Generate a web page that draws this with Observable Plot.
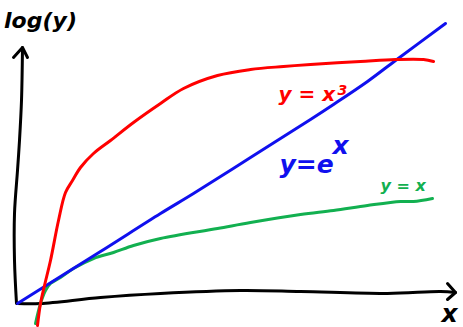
<!DOCTYPE html>
<html>
<head>
<meta charset="utf-8">
<script src="https://cdn.jsdelivr.net/npm/d3@7"></script>
<script src="https://cdn.jsdelivr.net/npm/@observablehq/plot@0.6"></script>
<style>
  html, body { margin: 0; padding: 0; background: #fff; }
  #chart svg { display: block; }
</style>
</head>
<body>
<div id="chart"></div>
<script>
// Sketch of log(y) against x for three growth laws (sketch units, origin at 0,0)
const cubicCurve = [
  [20, -22], [23, 0], [27, 18], [33, 43], [41, 83], [48, 111], [55, 123],
  [63, 136], [76, 150], [93, 163], [116, 181], [143, 200], [166, 215],
  [200, 228], [233, 234], [266, 237], [293, 239], [343, 242], [378, 244],
  [406, 244], [416, 242]
];
const expCurve = [
  [0, 0], [83, 52], [143, 90], [176, 110], [233, 146], [293, 184],
  [316, 199], [350, 222], [378, 243], [428, 280]
];
const linearCurve = [
  [18, -20], [23, 0], [28, 13], [33, 20], [43, 26], [56, 35], [76, 45],
  [96, 51], [116, 58], [143, 65], [200, 75], [233, 81], [283, 89], [316, 93],
  [350, 98], [383, 102], [396, 102], [415, 105]
];

// Hand-drawn axes with arrowheads
const yAxisLine = [[-1, 0], [-3, 43], [-3, 90], [0, 133], [2, 163], [4, 203], [5, 256]];
const yArrow = [[-4, 246], [5, 256], [10, 246]];
const xAxisLine = [[0, 0], [23, 0], [83, 6], [143, 10], [223, 13], [283, 12], [370, 10], [423, 12], [438, 11]];
const xArrow = [[430, 20], [438, 11], [430, 4]];

// Labels: text, position, colour, size
const labels = [
  {text: "log(y)", x: 23, y: 276, color: "#000", size: 22, anchor: "middle"},
  {text: "y = x", x: 261, y: 203, color: "#ff0000", size: 20, anchor: "start"},
  {text: "3", x: 320, y: 209, color: "#ff0000", size: 14, anchor: "start"},
  {text: "y=e", x: 262, y: 131, color: "#1010ee", size: 25, anchor: "start"},
  {text: "x", x: 315, y: 150, color: "#1010ee", size: 25, anchor: "start"},
  {text: "y = x", x: 363, y: 113, color: "#12b050", size: 16, anchor: "start"},
  {text: "x", x: 432, y: -18, color: "#000", size: 25, anchor: "middle"}
];

const font = "'DejaVu Sans', sans-serif";
const lineStyle = {x: d => d[0], y: d => d[1], strokeWidth: 3, strokeLinecap: "round", strokeLinejoin: "round"};

const chart = Plot.plot({
  width: 463,
  height: 327,
  margin: 0,
  x: {domain: [-17, 446], axis: null},
  y: {domain: [-24, 303], axis: null},
  marks: [
    Plot.line(xAxisLine, {...lineStyle, stroke: "#000", curve: "catmull-rom"}),
    Plot.line(xArrow, {...lineStyle, stroke: "#000"}),
    Plot.line(yAxisLine, {...lineStyle, stroke: "#000", curve: "catmull-rom"}),
    Plot.line(yArrow, {...lineStyle, stroke: "#000"}),
    Plot.line(linearCurve, {...lineStyle, stroke: "#12b050", curve: "catmull-rom"}),
    Plot.line(expCurve, {...lineStyle, stroke: "#1010ee", curve: "catmull-rom"}),
    Plot.line(cubicCurve, {...lineStyle, stroke: "#ff0000", curve: "catmull-rom"}),
    ...labels.map(l => Plot.text([l], {
      x: "x", y: "y", text: "text", fill: l.color, fontSize: l.size,
      textAnchor: l.anchor, lineAnchor: "bottom", fontFamily: font,
      fontStyle: "italic", fontWeight: "bold"
    }))
  ]
});

document.getElementById("chart").append(chart);
</script>
</body>
</html>
